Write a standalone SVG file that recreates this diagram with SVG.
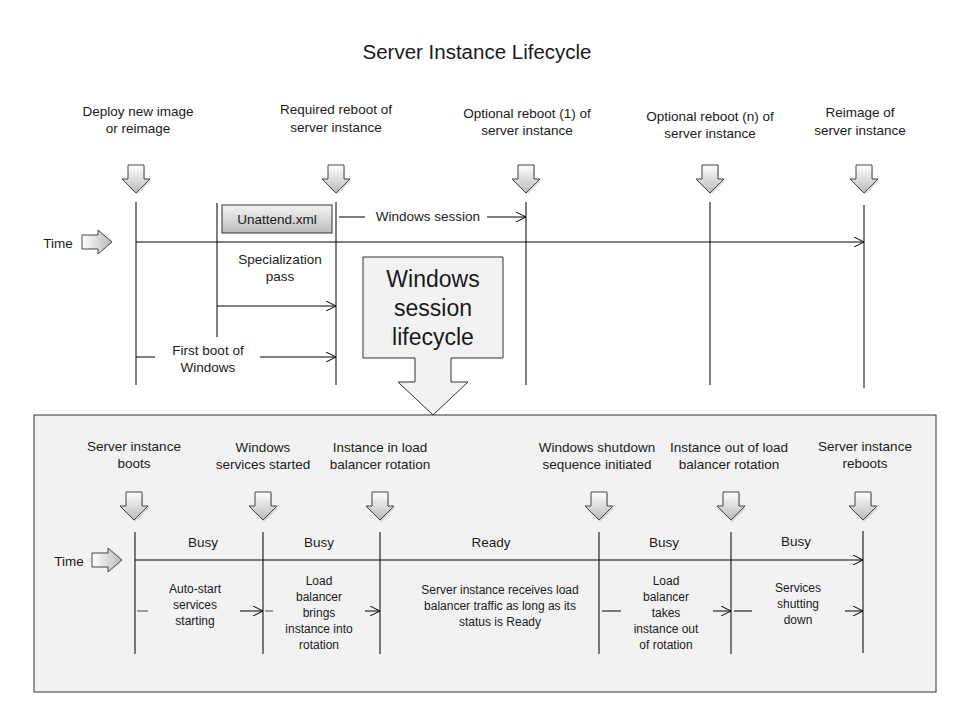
<svg xmlns="http://www.w3.org/2000/svg" width="960" height="720" viewBox="0 0 960 720">
<defs>
<linearGradient id="gdown" x1="0" y1="0" x2="0" y2="1">
<stop offset="0" stop-color="#ffffff"/><stop offset="1" stop-color="#b9b9b9"/>
</linearGradient>
<linearGradient id="gright" x1="0" y1="0" x2="1" y2="0">
<stop offset="0" stop-color="#ffffff"/><stop offset="1" stop-color="#b9b9b9"/>
</linearGradient>
<linearGradient id="gbox" x1="0" y1="0" x2="0" y2="1">
<stop offset="0" stop-color="#f4f4f4"/><stop offset="1" stop-color="#bdbdbd"/>
</linearGradient>
<marker id="open" viewBox="0 0 10 10" refX="10" refY="5" markerWidth="10" markerHeight="10" markerUnits="userSpaceOnUse" orient="auto">
<path d="M0,0 L10,5 L0,10" fill="none" stroke="#000" stroke-width="1"/>
</marker>
<path id="darr" d="M-8,-28 H8 V-14 H14 L0,0 L-14,-14 H-8 Z"/>
<path id="rarr" d="M-30,-7 H-14 V-12 L0,0 L-14,12 V7 H-30 Z"/>
</defs>
<style>
text{font-family:"Liberation Sans",Arial,sans-serif;fill:#1a1a1a;text-anchor:middle}
.t{font-size:13.5px}
.s{font-size:12px}
.big{font-size:23px}
.ttl{font-size:20.5px}
.ln{stroke:#000;stroke-width:1;fill:none}
.dash{stroke:#444;stroke-width:1;fill:none}
.da{fill:url(#gdown);stroke:#444;stroke-width:1}
.sh{fill:#000;opacity:0.12}
.ra{fill:url(#gright);stroke:#444;stroke-width:1}
</style>
<rect width="960" height="720" fill="#fff"/>
<text class="ttl" x="477" y="59">Server Instance Lifecycle</text>

<g id="panel"><rect x="34" y="415" width="902" height="277" fill="#f2f2f2" stroke="#333" stroke-width="1"/></g>

<g id="top-events">
<g id="ev-deploy"><text class="t" x="138" y="116">Deploy new image</text><text class="t" x="138" y="133">or reimage</text><use href="#darr" x="137" y="195" class="sh"/><use href="#darr" x="136" y="193" class="da"/></g>
<g id="ev-required"><text class="t" x="336" y="114">Required reboot of</text><text class="t" x="336" y="132">server instance</text><use href="#darr" x="337" y="195" class="sh"/><use href="#darr" x="336" y="193" class="da"/></g>
<g id="ev-opt1"><text class="t" x="527" y="118">Optional reboot (1) of</text><text class="t" x="527" y="135">server instance</text><use href="#darr" x="527" y="195" class="sh"/><use href="#darr" x="526" y="193" class="da"/></g>
<g id="ev-optn"><text class="t" x="710" y="121">Optional reboot (n) of</text><text class="t" x="710" y="138">server instance</text><use href="#darr" x="711" y="195" class="sh"/><use href="#darr" x="710" y="193" class="da"/></g>
<g id="ev-reimage"><text class="t" x="860" y="117">Reimage  of</text><text class="t" x="860" y="135">server instance</text><use href="#darr" x="865" y="195" class="sh"/><use href="#darr" x="864" y="193" class="da"/></g>
</g>

<g id="time-top"><text class="t" x="58" y="248">Time</text><use href="#rarr" x="112" y="242" class="ra"/></g>

<g id="unattend"><rect x="222" y="205" width="110" height="28" fill="url(#gbox)" stroke="#333" stroke-width="1"/><text class="t" x="277" y="224">Unattend.xml</text></g>

<g id="wsl">
<path d="M363,257 H503 V358 H451 V382 H468 L433,415 L398,382 H415 V358 H363 Z" fill="#f2f2f2" stroke="#333" stroke-width="1"/>
<text class="big" x="433" y="287">Windows</text><text class="big" x="433" y="316">session</text><text class="big" x="433" y="345">lifecycle</text>
</g>

<g id="top-labels">
<text class="t" x="280" y="264">Specialization</text><text class="t" x="280" y="281">pass</text>
<text class="t" x="208" y="355">First boot of</text><text class="t" x="208" y="372">Windows</text>
<text class="t" x="428" y="221">Windows session</text>
</g>

<g id="connectors-top">
<line class="ln" x1="136" y1="202" x2="136" y2="385"/>
<line class="ln" x1="217" y1="203" x2="217" y2="337"/>
<line class="ln" x1="336" y1="202" x2="336" y2="385"/>
<line class="ln" x1="526" y1="202" x2="526" y2="385"/>
<line class="ln" x1="710" y1="202" x2="710" y2="385"/>
<line class="ln" x1="864" y1="205" x2="864" y2="388"/>
<line class="ln" x1="136" y1="242" x2="864" y2="242" marker-end="url(#open)"/>
<line class="ln" x1="217" y1="306" x2="336" y2="306" marker-end="url(#open)"/>
<line class="ln" x1="136" y1="357" x2="155" y2="357"/>
<line class="ln" x1="260" y1="357" x2="336" y2="357" marker-end="url(#open)"/>
<line class="ln" x1="339" y1="217" x2="365" y2="217"/>
<line class="ln" x1="487" y1="217" x2="526" y2="217" marker-end="url(#open)"/>
</g>

<g id="bottom-events">
<g id="ev-boots"><text class="t" x="134" y="451">Server instance</text><text class="t" x="134" y="468">boots</text><use href="#darr" x="135" y="522" class="sh"/><use href="#darr" x="134" y="520" class="da"/></g>
<g id="ev-services"><text class="t" x="263" y="452">Windows</text><text class="t" x="263" y="469">services started</text><use href="#darr" x="264" y="522" class="sh"/><use href="#darr" x="263" y="520" class="da"/></g>
<g id="ev-inlb"><text class="t" x="380" y="452">Instance in load</text><text class="t" x="380" y="469">balancer rotation</text><use href="#darr" x="381" y="522" class="sh"/><use href="#darr" x="380" y="520" class="da"/></g>
<g id="ev-shutdown"><text class="t" x="597" y="452">Windows shutdown</text><text class="t" x="597" y="469">sequence initiated</text><use href="#darr" x="600" y="522" class="sh"/><use href="#darr" x="599" y="520" class="da"/></g>
<g id="ev-outlb"><text class="t" x="729" y="452">Instance out of load</text><text class="t" x="729" y="469">balancer rotation</text><use href="#darr" x="732" y="522" class="sh"/><use href="#darr" x="731" y="520" class="da"/></g>
<g id="ev-reboots"><text class="t" x="865" y="451">Server instance</text><text class="t" x="865" y="468">reboots</text><use href="#darr" x="864" y="522" class="sh"/><use href="#darr" x="863" y="520" class="da"/></g>
</g>

<g id="time-bottom"><text class="t" x="69" y="566">Time</text><use href="#rarr" x="122" y="560" class="ra"/></g>

<g id="states">
<text class="t" x="203" y="547">Busy</text>
<text class="t" x="319" y="547">Busy</text>
<text class="t" x="491" y="547">Ready</text>
<text class="t" x="664" y="547">Busy</text>
<text class="t" x="796" y="546">Busy</text>
</g>

<g id="phase-labels">
<text class="s" x="195" y="593">Auto-start</text><text class="s" x="195" y="609">services</text><text class="s" x="195" y="625">starting</text>
<text class="s" x="319" y="585">Load</text><text class="s" x="319" y="601">balancer</text><text class="s" x="319" y="617">brings</text><text class="s" x="319" y="633">instance into</text><text class="s" x="319" y="649">rotation</text>
<text class="s" x="500" y="594">Server  instance receives load</text><text class="s" x="500" y="610">balancer traffic as long as its</text><text class="s" x="500" y="626">status is Ready</text>
<text class="s" x="666" y="585">Load</text><text class="s" x="666" y="601">balancer</text><text class="s" x="666" y="617">takes</text><text class="s" x="666" y="633">instance out</text><text class="s" x="666" y="649">of rotation</text>
<text class="s" x="798" y="592">Services</text><text class="s" x="798" y="608">shutting</text><text class="s" x="798" y="624">down</text>
</g>

<g id="connectors-bottom">
<line class="ln" x1="135" y1="532" x2="135" y2="654"/>
<line class="ln" x1="263" y1="532" x2="263" y2="654"/>
<line class="ln" x1="380" y1="532" x2="380" y2="654"/>
<line class="ln" x1="599" y1="532" x2="599" y2="654"/>
<line class="ln" x1="731" y1="532" x2="731" y2="654"/>
<line class="ln" x1="863" y1="531" x2="863" y2="653"/>
<line class="ln" x1="135" y1="560" x2="863" y2="560" marker-end="url(#open)"/>
<line class="dash" x1="137" y1="611" x2="148" y2="611"/>
<line class="ln" x1="240" y1="611" x2="263" y2="611" marker-end="url(#open)"/>
<line class="dash" x1="265" y1="611" x2="273" y2="611"/>
<line class="ln" x1="365" y1="611" x2="380" y2="611" marker-end="url(#open)"/>
<line class="ln" x1="602" y1="611" x2="621" y2="611"/>
<line class="ln" x1="713" y1="611" x2="731" y2="611" marker-end="url(#open)"/>
<line class="ln" x1="734" y1="611" x2="752" y2="611"/>
<line class="ln" x1="845" y1="611" x2="863" y2="611" marker-end="url(#open)"/>
</g>
</svg>
